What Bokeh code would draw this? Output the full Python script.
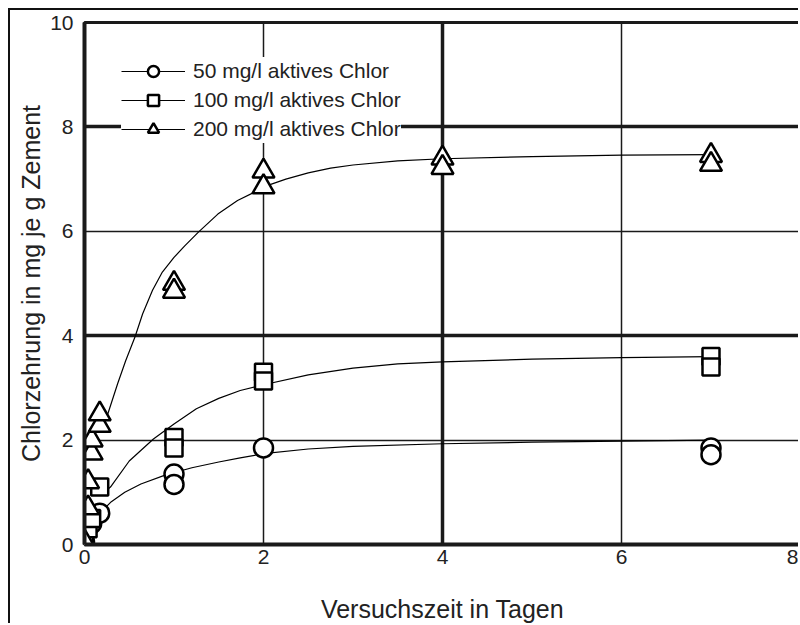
from bokeh.plotting import figure
from bokeh.models import FixedTicker, Grid, Legend, LegendItem, Range1d
from bokeh.embed import file_html
from bokeh.resources import INLINE

# ---- data ----
# measured points, 50 mg/l aktives Chlor
x50 = [0, 0.08, 0.17, 1, 1, 2, 7, 7]
y50 = [0.05, 0.4, 0.6, 1.35, 1.15, 1.85, 1.85, 1.72]
# measured points, 100 mg/l aktives Chlor
x100 = [0, 0.04, 0.08, 0.17, 1, 1, 2, 2, 7, 7]
y100 = [0.1, 0.3, 0.5, 1.1, 2.05, 1.85, 3.3, 3.13, 3.6, 3.4]
# measured points, 200 mg/l aktives Chlor
x200 = [0, 0.04, 0.04, 0.08, 0.08, 0.17, 0.17, 1, 1, 2, 2, 4, 4, 7, 7]
y200 = [0.05, 0.7, 1.2, 1.75, 2.0, 2.28, 2.5, 5.0, 4.85, 7.15, 6.85, 7.4, 7.22, 7.45, 7.28]

# fitted curves
cx50 = [0.2, 0.3, 0.45, 0.63, 0.9, 1.2, 1.5, 1.74, 2.0, 2.5, 3.0, 4.0, 5.0, 6.0, 7.0]
cy50 = [0.65, 0.82, 1.0, 1.16, 1.33, 1.47, 1.58, 1.66, 1.74, 1.83, 1.88, 1.93, 1.96, 1.98, 2.0]
cx100 = [0.22, 0.29, 0.5, 0.77, 1.0, 1.25, 1.5, 1.74, 2.0, 2.5, 3.0, 3.5, 4.0, 5.0, 6.0, 7.0]
cy100 = [1.0, 1.1, 1.6, 2.02, 2.31, 2.6, 2.8, 2.95, 3.06, 3.25, 3.38, 3.46, 3.5, 3.55, 3.58, 3.6]
cx200 = [0.22, 0.26, 0.37, 0.46, 0.565, 0.65, 0.76, 0.87, 1.0, 1.12, 1.27, 1.49, 1.71, 1.9,
         2.0, 2.25, 2.5, 2.75, 3.0, 3.5, 4.0, 5.0, 6.0, 7.0]
cy200 = [2.35, 2.5, 3.08, 3.52, 3.98, 4.42, 4.87, 5.22, 5.5, 5.72, 5.98, 6.33, 6.59, 6.75,
         6.85, 7.0, 7.12, 7.21, 7.27, 7.35, 7.39, 7.43, 7.46, 7.47]

x_ticks = [0, 2, 4, 6, 8]
y_ticks = [0, 2, 4, 6, 8, 10]
thin_x = [2, 6]
thick_x = [4]
thin_y = [2, 6]
thick_y = [4, 8]

labels = ["50 mg/l aktives Chlor", "100 mg/l aktives Chlor", "200 mg/l aktives Chlor"]
x_title = "Versuchszeit in Tagen"
y_title = "Chlorzehrung in mg je g Zement"

FONT = "Liberation Sans"
INK = "#1a1a1a"
TXT = "#222222"

p = figure(width=790, height=615, output_backend="svg", toolbar_location=None,
           x_range=Range1d(0, 8), y_range=Range1d(0, 10),
           min_border_left=74, min_border_top=12, min_border_right=0, min_border_bottom=81,
           background_fill_color="white", border_fill_color="white")
p.styles = {"margin-left": "8px", "margin-top": "8px",
            "border-left": "2px solid #111111", "border-top": "2px solid #111111"}

p.outline_line_color = INK
p.outline_line_width = 3

for ax in (p.xaxis[0], p.yaxis[0]):
    ax.axis_line_width = 4
    ax.axis_line_color = INK
    ax.major_tick_in = 0
    ax.major_tick_out = 0
    ax.minor_tick_in = 0
    ax.minor_tick_out = 0
    ax.major_label_text_font = FONT
    ax.major_label_text_font_size = "21px"
    ax.major_label_text_color = TXT
    ax.axis_label_text_font = FONT
    ax.axis_label_text_font_style = "normal"
    ax.axis_label_text_color = TXT
    ax.axis_label_text_line_height = 0.9

p.xaxis.ticker = FixedTicker(ticks=x_ticks)
p.yaxis.ticker = FixedTicker(ticks=y_ticks)
p.xaxis.major_label_standoff = 5
p.yaxis.major_label_standoff = 11

p.xaxis.axis_label = x_title
p.xaxis.axis_label_text_font_size = "25px"
p.xaxis.axis_label_text_line_height = 0.8
p.xaxis.axis_label_standoff = 28

p.yaxis.axis_label = y_title
p.yaxis.axis_label_text_font_size = "25px"
p.yaxis.axis_label_standoff = 2

# grid lines: thin and thick
p.xgrid.ticker = FixedTicker(ticks=thin_x)
p.ygrid.ticker = FixedTicker(ticks=thin_y)
for g in (p.xgrid[0], p.ygrid[0]):
    g.grid_line_color = INK
    g.grid_line_width = 1.5
p.add_layout(Grid(dimension=0, ticker=FixedTicker(ticks=thick_x),
                  grid_line_color=INK, grid_line_width=3.5))
p.add_layout(Grid(dimension=1, ticker=FixedTicker(ticks=thick_y),
                  grid_line_color=INK, grid_line_width=3.5))

series = [
    (cx50, cy50, x50, y50, "circle", 19),
    (cx100, cy100, x100, y100, "square", 17),
    (cx200, cy200, x200, y200, "triangle", 22),
]

items = []
for (cx, cy, mx, my, mk, sz), lab in zip(series, labels):
    l = p.line(cx, cy, line_color="black", line_width=1.2)
    s = p.scatter(mx, my, marker=mk, size=sz, fill_color="white",
                  line_color="black", line_width=2.5)
    items.append(LegendItem(label=lab, renderers=[l, s]))

legend = Legend(items=items, location=(37, 401), orientation="vertical",
                glyph_width=64, glyph_height=28, spacing=1, padding=12, margin=0,
                label_standoff=8, label_text_font=FONT, label_text_font_size="21px",
                label_text_color=TXT,
                background_fill_color="white", background_fill_alpha=1.0,
                border_line_color=None)
p.add_layout(legend, "center")

open("out.html", "w").write(file_html(p, INLINE))
